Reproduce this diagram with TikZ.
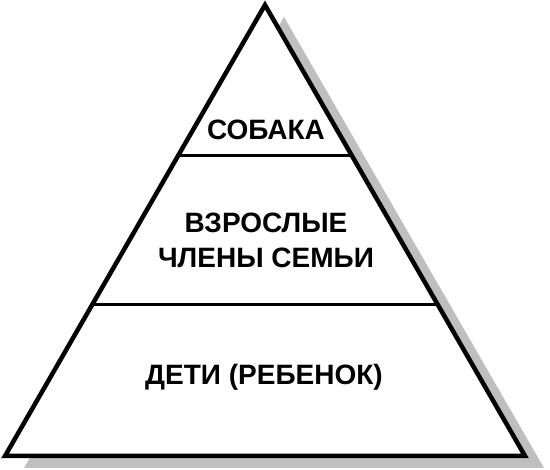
\documentclass[tikz,border=0pt]{standalone}
\usepackage{fontspec}
\setmainfont{Liberation Sans}
\usetikzlibrary{calc,positioning}

\begin{document}
\begin{tikzpicture}[x=1pt,y=1pt,line join=miter,
  tier/.style={font=\bfseries\fontsize{28}{35}\selectfont,align=center,inner sep=0pt}]
\useasboundingbox (0,0) rectangle (550,470);
\coordinate (apex) at (265,465);
\coordinate (left) at (5,14);
\coordinate (right) at (525,14);
% shadow
\fill[gray!50] ($(apex)+(19,-12)$) -- ($(right)+(19,-12)$) -- ($(left)+(19,-12)$) -- cycle;
\fill[white] (apex) -- (right) -- (left) -- cycle;
\coordinate (l1) at ($(left)!0.335!(apex)$);
\coordinate (r1) at ($(right)!0.335!(apex)$);
\coordinate (l2) at ($(left)!0.667!(apex)$);
\coordinate (r2) at ($(right)!0.667!(apex)$);
\draw[line width=3pt] (l1) -- (r1);
\draw[line width=3pt] (l2) -- (r2);
\draw[line width=4.5pt] (apex) -- (right) -- (left) -- cycle;
\node[tier] (dog) at (266,340) {СОБАКА};
\node[tier] (adults) at (266,229.5) {ВЗРОСЛЫЕ\\ЧЛЕНЫ СЕМЬИ};
\node[tier] (kids) at (264,93) {ДЕТИ (РЕБЕНОК)};
\end{tikzpicture}
\end{document}
